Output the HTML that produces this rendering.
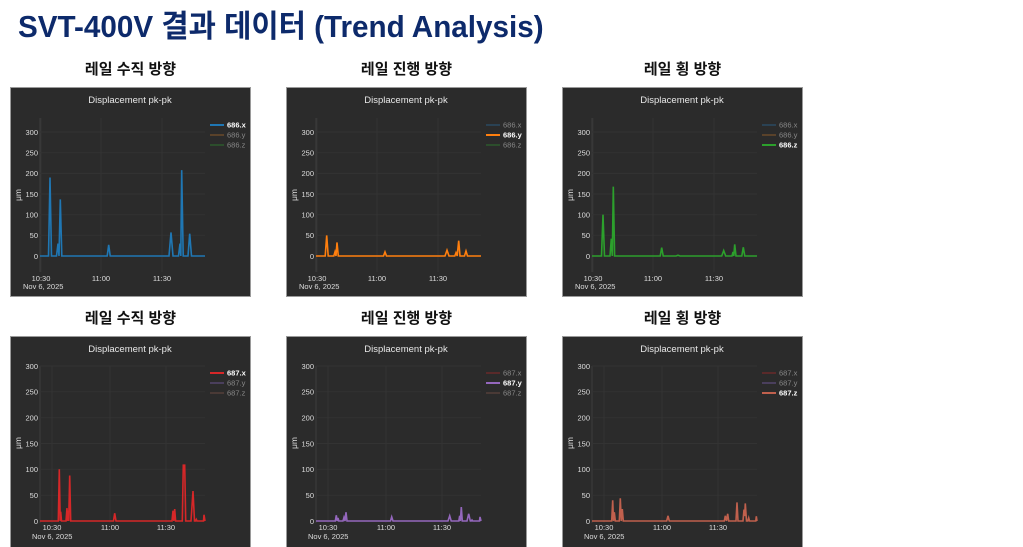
<!DOCTYPE html>
<html><head><meta charset="utf-8"><style>
html,body{margin:0;padding:0;background:#fff;width:1023px;height:547px;overflow:hidden;position:relative;font-family:"Liberation Sans","Noto Sans CJK KR",sans-serif}
.t{position:absolute;left:18px;top:1px;font-size:31px;font-weight:bold;color:#0d2a6b;white-space:nowrap;transform:scaleX(0.956);transform-origin:0 0}
.s{position:absolute;width:241px;text-align:center;font-size:15px;font-weight:bold;color:#111}
svg{position:absolute;display:block}
svg text{font-family:"Liberation Sans","DejaVu Sans",sans-serif}
</style></head><body>
<div class="t">SVT-400V 결과 데이터 (Trend Analysis)</div>
<div class="s" style="left:10px;top:58px">레일 수직 방향</div>
<div class="s" style="left:286px;top:58px">레일 진행 방향</div>
<div class="s" style="left:562px;top:58px">레일 횡 방향</div>
<div class="s" style="left:10px;top:307px">레일 수직 방향</div>
<div class="s" style="left:286px;top:307px">레일 진행 방향</div>
<div class="s" style="left:562px;top:307px">레일 횡 방향</div>

<svg width="0" height="0" style="position:absolute">
<defs>
<g id="topax" font-size="7.5" fill="#ddd">
<rect x="0.5" y="0.5" width="240" height="209" fill="#2b2b2b" stroke="#9a9a9a"/>
<g stroke="#333" stroke-width="1">
<line x1="30" y1="31" x2="30" y2="185" stroke="#3c3c3c"/><line x1="31" y1="31" x2="31" y2="185"/><line x1="91" y1="31" x2="91" y2="185"/><line x1="152" y1="31" x2="152" y2="185"/>
<line x1="30" y1="148.3" x2="195" y2="148.3"/><line x1="30" y1="127.7" x2="195" y2="127.7"/><line x1="30" y1="107" x2="195" y2="107"/><line x1="30" y1="86.4" x2="195" y2="86.4"/><line x1="30" y1="65.8" x2="195" y2="65.8"/><line x1="30" y1="45" x2="195" y2="45"/>
</g>
<text x="120" y="16" text-anchor="middle" font-size="9.5" fill="#e8e8e8">Displacement pk-pk</text>
<g text-anchor="end">
<text x="28" y="172">0</text><text x="28" y="151">50</text><text x="28" y="130.5">100</text><text x="28" y="110">150</text><text x="28" y="89">200</text><text x="28" y="68.5">250</text><text x="28" y="48">300</text>
</g>
<g text-anchor="middle"><text x="31" y="194">10:30</text><text x="91" y="194">11:00</text><text x="152" y="194">11:30</text></g>
<text x="13" y="202">Nov 6, 2025</text>
<text transform="translate(11,108) rotate(-90)" text-anchor="middle" font-size="8.5">μm</text>
</g>
<g id="botax" font-size="7.5" fill="#ddd">
<rect x="0.5" y="0.5" width="240" height="215" fill="#2b2b2b" stroke="#9a9a9a"/>
<g stroke="#333" stroke-width="1">
<line x1="30" y1="30" x2="30" y2="187" stroke="#3c3c3c"/><line x1="42" y1="30" x2="42" y2="187"/><line x1="100" y1="30" x2="100" y2="187"/><line x1="156" y1="30" x2="156" y2="187"/>
<line x1="30" y1="159.2" x2="195" y2="159.2"/><line x1="30" y1="133.3" x2="195" y2="133.3"/><line x1="30" y1="107.5" x2="195" y2="107.5"/><line x1="30" y1="81.7" x2="195" y2="81.7"/><line x1="30" y1="55.8" x2="195" y2="55.8"/><line x1="30" y1="30" x2="195" y2="30"/>
</g>
<text x="120" y="16" text-anchor="middle" font-size="9.5" fill="#e8e8e8">Displacement pk-pk</text>
<g text-anchor="end">
<text x="28" y="188">0</text><text x="28" y="162">50</text><text x="28" y="136">100</text><text x="28" y="110.5">150</text><text x="28" y="84.5">200</text><text x="28" y="58.5">250</text><text x="28" y="33">300</text>
</g>
<g text-anchor="middle"><text x="42" y="194">10:30</text><text x="100" y="194">11:00</text><text x="156" y="194">11:30</text></g>
<text x="22" y="203">Nov 6, 2025</text>
<text transform="translate(11,107) rotate(-90)" text-anchor="middle" font-size="8.5">μm</text>
</g>
</defs>
</svg>

<svg style="left:10px;top:87px" width="241" height="210">
<use href="#topax"/>
<g font-size="7.5">
<line x1="200" y1="38" x2="214" y2="38" stroke="#1f77b4" stroke-width="2"/><text x="217" y="40.5" fill="#fff" font-weight="bold">686.x</text>
<line x1="200" y1="48" x2="214" y2="48" stroke="#6a4a2a" stroke-width="1.5"/><text x="217" y="50.5" fill="#888">686.y</text>
<line x1="200" y1="58" x2="214" y2="58" stroke="#2d5a2d" stroke-width="1.5"/><text x="217" y="60.5" fill="#888">686.z</text>
</g>
<path fill="none" stroke="#1f77b4" stroke-width="1.6" d="M30 169 L38.5 169 L40 90.5 L41.5 169 L46.5 169 L48 156.6 L49 169 L50.3 112.4 L51.8 169 L97.2 169 L98.7 157.8 L100.2 169 L159 169 L161 145.5 L163 169 L168.5 169 L170 156.6 L170.8 169 L171.7 83.1 L173.2 169 L178 169 L179.7 146.7 L181.5 169 L195 169"/>
</svg>

<svg style="left:286px;top:87px" width="241" height="210">
<use href="#topax"/>
<g font-size="7.5">
<line x1="200" y1="38" x2="214" y2="38" stroke="#2a4a62" stroke-width="1.5"/><text x="217" y="40.5" fill="#888">686.x</text>
<line x1="200" y1="48" x2="214" y2="48" stroke="#ff7f0e" stroke-width="2"/><text x="217" y="50.5" fill="#fff" font-weight="bold">686.y</text>
<line x1="200" y1="58" x2="214" y2="58" stroke="#2d5a2d" stroke-width="1.5"/><text x="217" y="60.5" fill="#888">686.z</text>
</g>
<path fill="none" stroke="#ff7f0e" stroke-width="1.6" d="M30 169 L39.2 169 L40.7 148.4 L42.2 169 L47.8 169 L49 164.9 L50 169 L51 155.4 L52.3 169 L97.5 169 L99 164.9 L100.5 169 L159 169 L161 163.2 L163 169 L168.8 169 L170 165.7 L171.2 169 L172.7 153.7 L174 169 L178.5 169 L180 164 L181.5 169 L195 169"/>
</svg>

<svg style="left:562px;top:87px" width="241" height="210">
<use href="#topax"/>
<g font-size="7.5">
<line x1="200" y1="38" x2="214" y2="38" stroke="#2a4a62" stroke-width="1.5"/><text x="217" y="40.5" fill="#888">686.x</text>
<line x1="200" y1="48" x2="214" y2="48" stroke="#6a4a2a" stroke-width="1.5"/><text x="217" y="50.5" fill="#888">686.y</text>
<line x1="200" y1="58" x2="214" y2="58" stroke="#2ca02c" stroke-width="2"/><text x="217" y="60.5" fill="#fff" font-weight="bold">686.z</text>
</g>
<path fill="none" stroke="#2ca02c" stroke-width="1.6" d="M30 169 L39.5 169 L41 127.7 L42.5 169 L48 169 L49.3 151.7 L50.3 169 L51.3 99.6 L52.6 169 L98.2 169 L99.7 160.7 L101.2 169 L114 169 L116 168.2 L118 169 L159.7 169 L161.7 163.6 L163.7 169 L170 169 L171 164.9 L171.8 169 L172.7 157.4 L174 169 L179.8 169 L181.3 160.3 L182.8 169 L195 169"/>
</svg>

<svg style="left:10px;top:336px" width="241" height="211">
<use href="#botax"/>
<g font-size="7.5">
<line x1="200" y1="37" x2="214" y2="37" stroke="#d62728" stroke-width="2"/><text x="217" y="39.5" fill="#fff" font-weight="bold">687.x</text>
<line x1="200" y1="47" x2="214" y2="47" stroke="#55466e" stroke-width="1.5"/><text x="217" y="49.5" fill="#888">687.y</text>
<line x1="200" y1="57" x2="214" y2="57" stroke="#55403a" stroke-width="1.5"/><text x="217" y="59.5" fill="#888">687.z</text>
</g>
<path fill="none" stroke="#d62728" stroke-width="1.6" d="M30 185 L48.3 185 L49.3 133.3 L50.2 185 L50.7 175.7 L51.5 185 L56 185 L57 172.1 L57.5 185 L58 174.7 L58.7 185 L59.7 139.5 L60.7 185 L103.5 185 L104.7 177.2 L106 185 L162 185 L163 174.7 L163.8 185 L164.7 173.1 L165.6 185 L172.3 185 L173.3 129.2 L174.7 129.2 L175.7 185 L181 185 L183 155 L184.5 185 L185.5 185 L186.3 183.4 L187 185 L193.5 185 L194 178.8 L195 185"/>
</svg>

<svg style="left:286px;top:336px" width="241" height="211">
<use href="#botax"/>
<g font-size="7.5">
<line x1="200" y1="37" x2="214" y2="37" stroke="#6a2a2a" stroke-width="1.5"/><text x="217" y="39.5" fill="#888">687.x</text>
<line x1="200" y1="47" x2="214" y2="47" stroke="#9467bd" stroke-width="2"/><text x="217" y="49.5" fill="#fff" font-weight="bold">687.y</text>
<line x1="200" y1="57" x2="214" y2="57" stroke="#55403a" stroke-width="1.5"/><text x="217" y="59.5" fill="#888">687.z</text>
</g>
<path fill="none" stroke="#9467bd" stroke-width="1.6" d="M30 185 L49.3 185 L50.3 179.3 L51.2 185 L52 181.9 L52.8 185 L57 185 L58 181.4 L59 185 L60 176.2 L61 185 L104.5 185 L105.7 180.9 L107 185 L162 185 L163.7 179.8 L165.2 185 L172.8 185 L173.7 179.8 L174.4 185 L175.3 171 L176.3 185 L181 185 L182.7 177.8 L184.3 185 L185.3 185 L186 184 L186.7 185 L193.5 185 L194 180.9 L195 185"/>
</svg>

<svg style="left:562px;top:336px" width="241" height="211">
<use href="#botax"/>
<g font-size="7.5">
<line x1="200" y1="37" x2="214" y2="37" stroke="#6a2a2a" stroke-width="1.5"/><text x="217" y="39.5" fill="#888">687.x</text>
<line x1="200" y1="47" x2="214" y2="47" stroke="#55466e" stroke-width="1.5"/><text x="217" y="49.5" fill="#888">687.y</text>
<line x1="200" y1="57" x2="214" y2="57" stroke="#c0604d" stroke-width="2"/><text x="217" y="59.5" fill="#fff" font-weight="bold">687.z</text>
</g>
<path fill="none" stroke="#c0604d" stroke-width="1.6" d="M30 185 L49.7 185 L50.7 164.3 L51.5 185 L52.3 176.2 L53.3 185 L57.3 185 L58.3 162.3 L59.3 185 L60.3 173.1 L61.3 185 L104.7 185 L106 179.8 L107.3 185 L162.3 185 L163.3 179.8 L164.5 185 L165.7 177.8 L166.7 185 L174 185 L175 166.4 L176 185 L181 185 L182 173.6 L182.7 180 L183.3 167.4 L184.5 185 L185.8 185 L186.7 181.9 L187.5 185 L193.8 185 L194.3 180.3 L195 185"/>
</svg>
</body></html>
